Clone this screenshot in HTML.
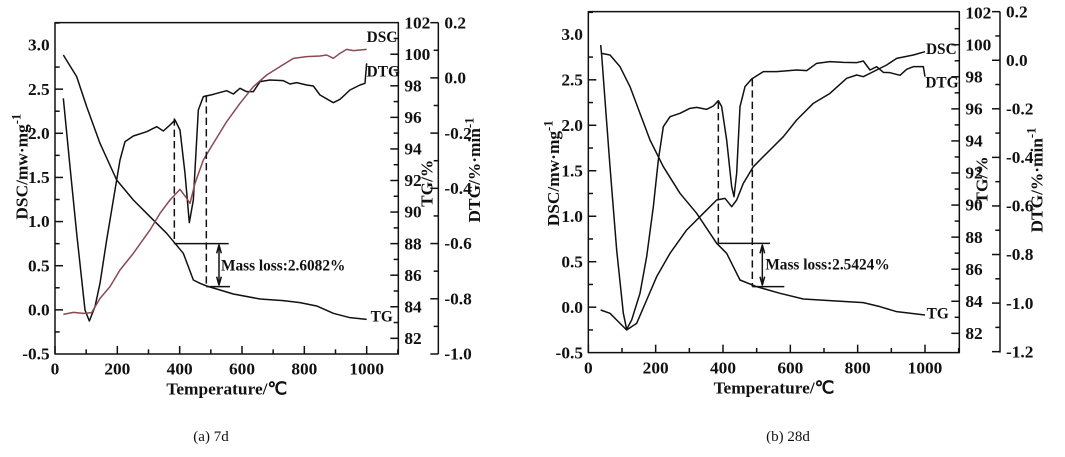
<!DOCTYPE html>
<html><head><meta charset="utf-8"><style>
html,body{margin:0;padding:0;background:#fff;}
svg{display:block;}
text{font-family:"Liberation Serif",serif;font-weight:bold;fill:#111;}
</style></head><body>
<svg id="s" width="1065" height="457" viewBox="0 0 1065 457" xmlns="http://www.w3.org/2000/svg">
<g id="L" transform="scale(0.33333)" fill="none" stroke="#111" stroke-width="4.5" stroke-linejoin="round">
<rect x="165" y="68" width="1030" height="994"/>
<line x1="1315" y1="68" x2="1315" y2="1062"/>
<polyline points="190,295 210,500 230,700 255,930 268,963 285,920 300,850 320,720 340,600 360,480 375,425 400,408 440,395 470,380 490,393 510,375 525,360 540,390 555,520 568,668 580,600 595,330 610,290 640,283 680,272 700,282 720,265 740,275 760,275 780,245 810,240 850,242 870,252 890,248 920,255 940,258 960,285 1000,308 1020,298 1050,270 1080,255 1095,250 1100,190"/>
<polyline points="190,165 230,230 260,320 300,430 350,540 400,600 450,650 500,700 525,730 550,760 565,800 580,840 600,850 620,858 660,870 700,882 780,897 850,902 900,908 950,918 1000,940 1050,953 1100,958"/>
<polyline stroke="#8a4a52" points="190,943 220,937 250,940 275,938 300,895 330,860 360,810 400,760 450,690 480,640 510,600 540,568 560,595 570,610 585,550 610,480 640,430 680,365 720,310 760,260 800,225 840,200 880,175 920,170 960,168 980,165 1000,175 1020,160 1040,148 1060,152 1100,148"/>
<line x1="523" y1="355" x2="523" y2="731" stroke-dasharray="22,12"/>
<line x1="619" y1="285" x2="619" y2="860" stroke-dasharray="22,12"/>
<line x1="523" y1="731" x2="686" y2="731"/>
<line x1="619" y1="860" x2="690" y2="860"/>
<line x1="657" y1="740" x2="657" y2="850"/>
<path d="M650,760 L657,735 L664,760 M650,830 L657,855 L664,830"/>
</g>
<g id="R" transform="translate(530,0) scale(0.33333)" fill="none" stroke="#111" stroke-width="4.5" stroke-linejoin="round">
<rect x="175" y="35" width="1113" height="1023"/>
<line x1="1410" y1="35" x2="1410" y2="1058"/>
<polyline points="212,135 215,165 225,300 240,500 260,750 280,940 290,988 305,960 330,880 350,770 370,620 385,480 400,380 420,350 450,340 480,325 500,322 530,328 550,318 565,302 575,320 590,420 605,560 612,590 620,520 630,320 645,260 665,237 700,215 740,215 800,210 830,212 860,190 900,185 940,187 980,188 1000,183 1020,210 1040,200 1060,217 1080,218 1110,226 1130,208 1150,200 1180,200 1185,230"/>
<polyline points="215,160 240,165 270,200 300,260 330,340 360,420 400,500 450,580 500,640 560,730 590,760 610,800 630,840 680,860 750,880 820,897 900,902 1000,908 1050,920 1100,935 1185,945"/>
<polyline points="212,930 240,940 260,960 290,990 320,970 350,900 380,830 420,760 470,690 520,640 560,600 585,595 605,620 620,600 640,550 670,500 720,450 760,410 800,360 850,310 900,280 950,235 980,225 1000,230 1040,210 1070,195 1100,175 1150,165 1185,155"/>
<line x1="565" y1="305" x2="565" y2="730" stroke-dasharray="22,12"/>
<line x1="667" y1="237" x2="667" y2="860" stroke-dasharray="22,12"/>
<line x1="565" y1="730" x2="720" y2="730"/>
<line x1="667" y1="860" x2="763" y2="860"/>
<line x1="697" y1="740" x2="697" y2="850"/>
<path d="M690,760 L697,735 L704,760 M690,830 L697,855 L704,830"/>
</g>
<text x="211" y="441" text-anchor="middle" style="font-weight:normal;font-size:15px">(a) 7d</text>
<text x="788" y="441" text-anchor="middle" style="font-weight:normal;font-size:15px">(b) 28d</text>
</svg>
<script>
var NS="http://www.w3.org/2000/svg";
function el(g,tag,a,txt){var e=document.createElementNS(NS,tag);for(var k in a)e.setAttribute(k,a[k]);if(txt!==undefined)e.textContent=txt;g.appendChild(e);return e;}
var FS=52;
function build(id,c){
 var g=document.getElementById(id);
 var T=el(g,"g",{stroke:"none",fill:"#111","font-weight":"bold"});
 for(var v=0;v<=1100;v+=100){var x=c.x0+(c.x1-c.x0)*v/1000;var len=v%200==0?24:14;
  if(x<c.bx1) el(g,"line",{x1:x,y1:c.by1,x2:x,y2:c.by1-len});
  if(v%200==0&&v<=1000) el(T,"text",{x:x,y:c.by1+62,"text-anchor":"middle","font-size":FS},String(v));}
 for(var i=0;i<=14;i++){var v=3.0-0.25*i;var y=c.d3+(c.dm-c.d3)*i/14;var maj=i%2==0;
  if(i>0&&i<14) el(g,"line",{x1:c.bx0,y1:y,x2:c.bx0+(maj?24:14),y2:y});
  if(maj) el(T,"text",{x:c.bx0-16,y:y+17,"text-anchor":"end","font-size":FS},v.toFixed(1));}
 el(g,"line",{x1:c.bx0,y1:c.d3-66,x2:c.bx0+14,y2:c.d3-66});
 for(var v=102;v>=82;v--){var y=c.t102+(v-102)*-c.tu;if(y>c.by1)break;var maj=v%2==0;
  if(v<102) el(g,"line",{x1:c.bx1,y1:y,x2:c.bx1-(maj?24:14),y2:y});
  if(maj) el(T,"text",{x:c.bx1+18,y:y+17,"font-size":FS},String(v));}
 var n=Math.round((c.dt0v-c.dt1v)/0.1);
 for(var i=0;i<=n;i++){var v=c.dt0v-0.1*i;var y=c.dt0+(c.dt1-c.dt0)*i/n;var maj=i%2==0;
  el(g,"line",{x1:c.ax,y1:y,x2:c.ax-(maj?24:14),y2:y});
  if(maj) el(T,"text",{x:c.ax+18,y:y+17,"font-size":FS},(Math.abs(v)<1e-9?0:v).toFixed(1));}
 el(T,"text",{x:(c.bx0+c.bx1)/2,y:c.by1+122,"text-anchor":"middle","font-size":52},"Temperature/℃");
 var t=el(T,"text",{transform:"translate("+c.yl+","+c.ylY+") rotate(-90)","text-anchor":"middle","font-size":52},"DSC/mw·mg");
 el(t,"tspan",{dy:-20,"font-size":38},"-1");
 el(T,"text",{transform:"translate("+c.tl+","+c.tlY+") rotate(-90)","text-anchor":"middle","font-size":52},"TG/%");
 var t2=el(T,"text",{transform:"translate("+c.dl+","+c.dlY+") rotate(-90)","text-anchor":"middle","font-size":52},"DTG/%·min");
 el(t2,"tspan",{dy:-20,"font-size":38},"-1");
 el(T,"text",{x:c.dscX,y:c.dscY,"font-size":46},"DSC");
 el(T,"text",{x:c.dtgX,y:c.dtgY,"font-size":46},"DTG");
 el(T,"text",{x:c.tgX,y:c.tgY,"font-size":46},"TG");
 el(T,"text",{x:c.mX,y:c.mY,"font-size":46},c.mt);
}
build("L",{x0:165,x1:1100,bx0:165,bx1:1195,by1:1062,d3:135,dm:1062,t102:68,tu:47.35,ax:1315,dt0:68,dt1:1062,dt0v:0.2,dt1v:-1.0,
 yl:82,ylY:500,tl:1298,tlY:550,dl:1440,dlY:510,dscX:1100,dscY:126,dtgX:1100,dtgY:230,tgX:1112,tgY:965,mX:663,mY:812,mt:"Mass loss:2.6082%"});
build("R",{x0:175,x1:1185,bx0:175,bx1:1288,by1:1058,d3:103,dm:1058,t102:38,tu:48.1,ax:1410,dt0:35,dt1:1055,dt0v:0.2,dt1v:-1.2,
 yl:87,ylY:520,tl:1372,tlY:540,dl:1537,dlY:540,dscX:1188,dscY:162,dtgX:1186,dtgY:262,tgX:1190,tgY:955,mX:706,mY:808,mt:"Mass loss:2.5424%"});
</script>
</body></html>
